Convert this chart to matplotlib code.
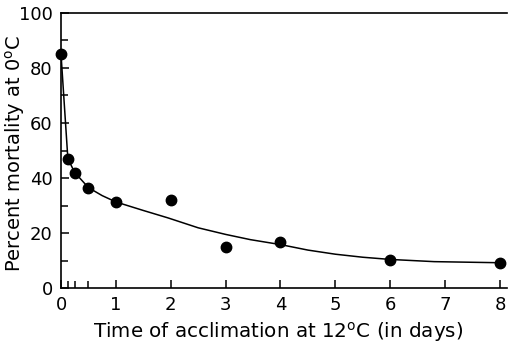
import matplotlib
matplotlib.use("Agg")
import matplotlib.pyplot as plt

# measured points (days, % mortality)
days = [0, 0.125, 0.25, 0.5, 1, 2, 3, 4, 6, 8]
mortality = [85, 47, 42, 36.5, 31.3, 32, 15, 16.7, 10.3, 9.2]

# hand-drawn fitted curve
curve_days = [0, 0.125, 0.25, 0.5, 0.75, 1, 1.5, 1.95, 2.5, 3, 3.45, 4, 4.5, 5, 5.5, 6, 6.8, 7.4, 8]
curve_mort = [85, 47, 42, 36.5, 33.6, 31.3, 28.2, 25.5, 21.9, 19.5, 17.6, 15.8, 13.8, 12.3, 11.2, 10.4, 9.6, 9.4, 9.2]

xticks = [0, 1, 2, 3, 4, 5, 6, 7, 8]
xminor = [0.125, 0.25, 0.5]
yticks = [0, 20, 40, 60, 80, 100]
yminor = [10, 30, 50, 70, 90]

plt.rcParams['font.family'] = ['DejaVu Sans']
fig = plt.figure(figsize=(5.11, 3.5), dpi=100)
ax = fig.add_axes([0.1194, 0.177, 0.873, 0.786])

ax.plot(curve_days, curve_mort, color='black', lw=1.1)
ax.plot(days, mortality, 'o', color='black', markersize=7.5, clip_on=False)

ax.set_xlim(0, 8.13)
ax.set_ylim(0, 100)
ax.set_xticks(xticks)
ax.set_xticks(xminor, minor=True)
ax.set_yticks(yticks)
ax.set_yticks(yminor, minor=True)
ax.tick_params(which='both', direction='in', labelsize=13, width=1.1, pad=6)
ax.tick_params(which='major', length=6)
ax.tick_params(which='minor', length=5)
ax.spines['right'].set_visible(False)
for s in ['left', 'bottom', 'top']:
    ax.spines[s].set_linewidth(1.2)

ax.set_xlabel('Time of acclimation at 12$^{\\mathrm{o}}$C (in days)', fontsize=14.3)
ax.set_ylabel('Percent mortality at 0$^{\\mathrm{o}}$C', fontsize=14)
ax.xaxis.set_label_coords(0.487, -0.115)
ax.yaxis.set_label_coords(-0.076, 0.49)

fig.savefig('out.png', dpi=100)
